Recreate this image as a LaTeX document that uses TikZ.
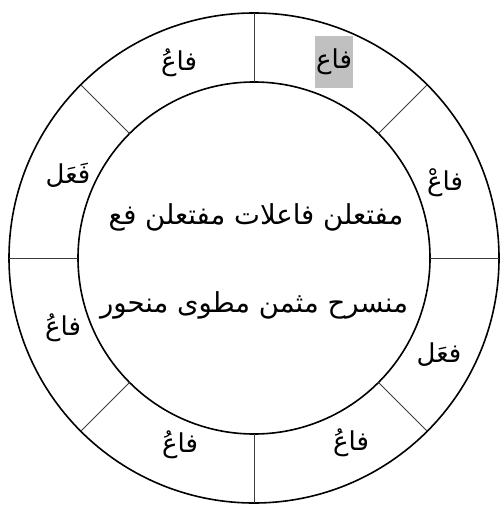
\documentclass[tikz,border=0pt]{standalone}
\usepackage{fontspec}
\usetikzlibrary{calc}
\newfontfamily\arabicfont[Script=Arabic]{DejaVu Sans}
\TeXXeTstate=1
\definecolor{hl}{RGB}{192,192,192}
\definecolor{divline}{RGB}{60,60,60}
\tikzset{
  ring/.style={draw=black, line width=1.6pt},
  divider/.style={draw=divline, line width=0.8pt},
  seg/.style={font=\arabicfont\fontsize{26}{30}\selectfont, inner sep=1pt},
  centertext/.style={font=\arabicfont\fontsize{27.5}{32}\selectfont, inner sep=0pt}
}
\begin{document}
\begin{tikzpicture}[x=1pt,y=1pt]
\useasboundingbox (0,0) rectangle (499,-505);
\coordinate (C) at (254,-258);
\draw[ring] (C) circle (245);
\draw[ring] (C) circle (176);
\foreach \a in {0,45,...,315}{
  \coordinate (i\a) at ($(C)+(\a:176)$);
  \coordinate (o\a) at ($(C)+(\a:245)$);
  \draw[divider] (i\a) -- (o\a);
}
\node[seg, fill=hl, minimum height=52pt, minimum width=35pt] (s1) at (334,-62) {\beginR فاع\endR};
\node[seg] (s2) at (179,-63) {\beginR فاعُ\endR};
\node[seg] (s3) at (445,-183) {\beginR فاعْ\endR};
\node[seg] (s4) at (68,-175) {\beginR فَعَل\endR};
\node[seg] (s5) at (63,-328) {\beginR فاعُ\endR};
\node[seg] (s6) at (439,-355) {\beginR فعَل\endR};
\node[seg] (s7) at (180,-445) {\beginR فاعُ\endR};
\node[seg] (s8) at (351,-443) {\beginR فاعُ\endR};
\node[centertext] (t1) at (256,-217) {\beginR مفتعلن فاعلات مفتعلن فع\endR};
\node[centertext] (t2) at (254,-305) {\beginR منسرح مثمن مطوى منحور\endR};
\end{tikzpicture}
\end{document}
